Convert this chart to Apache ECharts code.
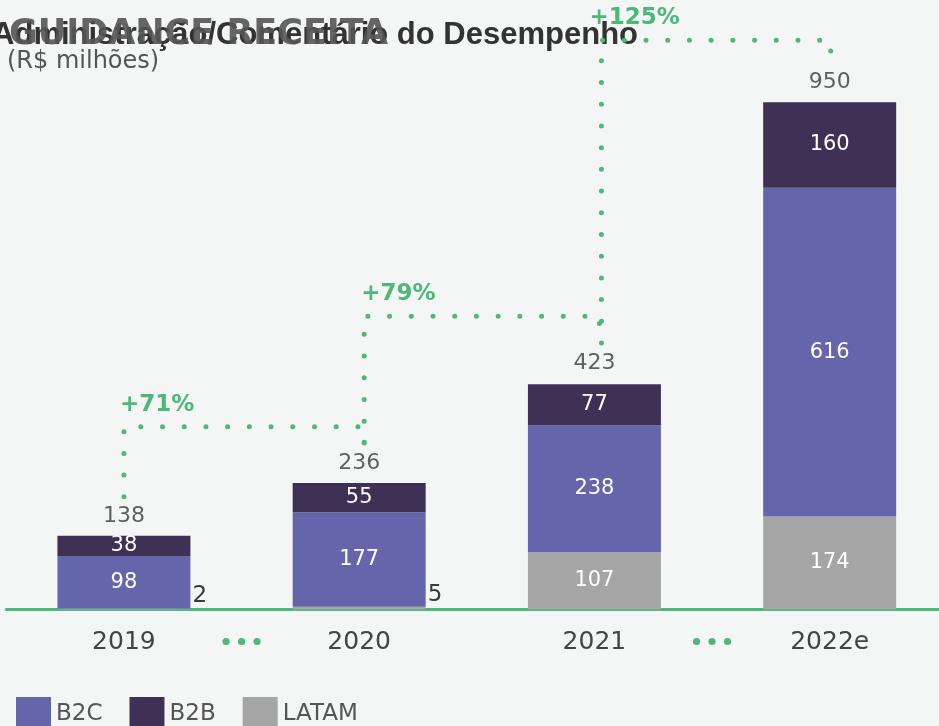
<!DOCTYPE html>
<html>
<head>
<meta charset="utf-8">
<script src="https://cdn.jsdelivr.net/npm/echarts@6/dist/echarts.min.js"></script>
<style>
html,body{margin:0;padding:0;background:#F4F6F5;}
#chart{width:939px;height:726px;}
</style>
</head>
<body>
<div id="chart"></div>
<script>
// ---- data (R$ milhões) ----
const categories = ['2019', '2020', '2021', '2022e'];
const b2c = [98, 177, 238, 616];
const b2b = [38, 55, 77, 160];
const latam = [2, 5, 107, 174];
const totals = [138, 236, 423, 950];
const growthLabels = ['+71%', '+79%', '+125%'];
// connector levels in R$ milhões: start above left bar, bridge level, end above right bar
const connStart = [211, 312, 499];
const connBridge = [342, 549, 1066];
const connEnd = [312, 499, 1006];
const gapAfter = [0, 2]; // "•••" between these categories and the next

const GREEN = '#4DB87A';
const FONT = 'DejaVu Sans';
const chart = echarts.init(document.getElementById('chart'));

const leftShift = [0, 5, 7];
const rightShift = [5, 5, 1];
const labelShift = [-4, -3, -12];

const option = {
  backgroundColor: '#F4F6F5',
  animation: false,
  graphic: [
    { type: 'text', style: { text: 'Administração/Comentário do Desempenho', x: 638, y: 35, align: 'right', verticalAlign: 'middle', font: 'bold 31px "Liberation Sans"', fill: '#333333' } },
    { type: 'text', style: { text: 'GUIDANCE RECEITA', x: 9, y: 35, align: 'left', verticalAlign: 'middle', font: 'bold 35px "DejaVu Sans"', fill: 'rgba(85,85,85,0.9)' } },
    { type: 'text', style: { text: '(R$ milhões)', x: 7, y: 62, align: 'left', verticalAlign: 'middle', font: '24px "DejaVu Sans"', fill: '#555555' } }
  ],
  legend: {
    data: ['B2C', 'B2B', 'LATAM'],
    left: 11, top: 692,
    icon: 'rect', itemWidth: 35, itemHeight: 35, itemGap: 27,
    textStyle: { fontFamily: FONT, fontSize: 23, color: '#555555' }
  },
  grid: { left: 6.3, width: 941, top: 75.5, bottom: 116.5, containLabel: false, outerBoundsMode: 'none' },
  xAxis: {
    type: 'category', data: categories,
    axisLine: { lineStyle: { color: GREEN, width: 3 } },
    axisTick: { show: false },
    axisLabel: { fontFamily: FONT, fontSize: 25, color: '#444444', margin: 20 }
  },
  yAxis: { type: 'value', min: 0, max: 1000, show: false, splitLine: { show: false } },
  series: [
    {
      name: 'LATAM', type: 'bar', stack: 'rev', barWidth: 133,
      itemStyle: { color: '#A5A5A5' },
      label: { show: true, position: 'inside', color: '#fff', fontFamily: FONT, fontSize: 21 },
      data: latam.map(v => v < 20 ? { value: v, label: { position: 'right', distance: 2, offset: [0, -13], color: '#3a3a3a', fontSize: 23 } } : v)
    },
    {
      name: 'B2C', type: 'bar', stack: 'rev', barWidth: 133,
      itemStyle: { color: '#6465AB' },
      label: { show: true, position: 'inside', color: '#fff', fontFamily: FONT, fontSize: 21 },
      data: b2c
    },
    {
      name: 'B2B', type: 'bar', stack: 'rev', barWidth: 133,
      itemStyle: { color: '#3F3055' },
      label: { show: true, position: 'inside', color: '#fff', fontFamily: FONT, fontSize: 21 },
      data: b2b
    },
    {
      name: 'Total', type: 'scatter', symbolSize: 0, silent: true,
      label: { show: true, position: 'top', distance: 9, color: '#3a3a3a', fontFamily: FONT, fontSize: 22 },
      data: totals
    },
    {
      name: 'Crescimento', type: 'custom', clip: false, silent: true, z: 5,
      data: growthLabels.map((l, i) => [i, connBridge[i]]),
      renderItem: function (params, api) {
        const i = params.dataIndex;
        const a0 = api.coord([i, connStart[i]]);
        const a1 = api.coord([i, connBridge[i]]);
        const b1 = api.coord([i + 1, connBridge[i]]);
        const b2 = api.coord([i + 1, connEnd[i]]);
        const xl = a0[0] + leftShift[i];
        const xr = b1[0] + rightShift[i];
        return {
          type: 'group',
          children: [
            {
              type: 'polyline',
              shape: { points: [[xl, a0[1]], [xl, a1[1]], [xr, b1[1]], [xr, b2[1]]] },
              style: { stroke: GREEN, lineWidth: 5, lineDash: [0.01, 21.7], lineCap: 'round', fill: null }
            },
            {
              type: 'text',
              style: { text: growthLabels[i], x: xl + labelShift[i], y: a1[1] - 22, align: 'left', verticalAlign: 'middle', font: 'bold 23px "DejaVu Sans"', fill: GREEN }
            }
          ]
        };
      }
    },
    {
      name: 'Gap', type: 'custom', clip: false, silent: true,
      data: gapAfter.map(i => [i, 0]),
      renderItem: function (params, api) {
        const i = gapAfter[params.dataIndex];
        const p0 = api.coord([i, 0]);
        const p1 = api.coord([i + 1, 0]);
        const cx = (p0[0] + p1[0]) / 2;
        const cy = p0[1] + 32;
        return {
          type: 'group',
          children: [-15.5, 0, 15.5].map(d => ({
            type: 'circle', shape: { cx: cx + d, cy: cy, r: 3.6 }, style: { fill: GREEN }
          }))
        };
      }
    }
  ]
};
chart.setOption(option);
</script>
</body>
</html>
